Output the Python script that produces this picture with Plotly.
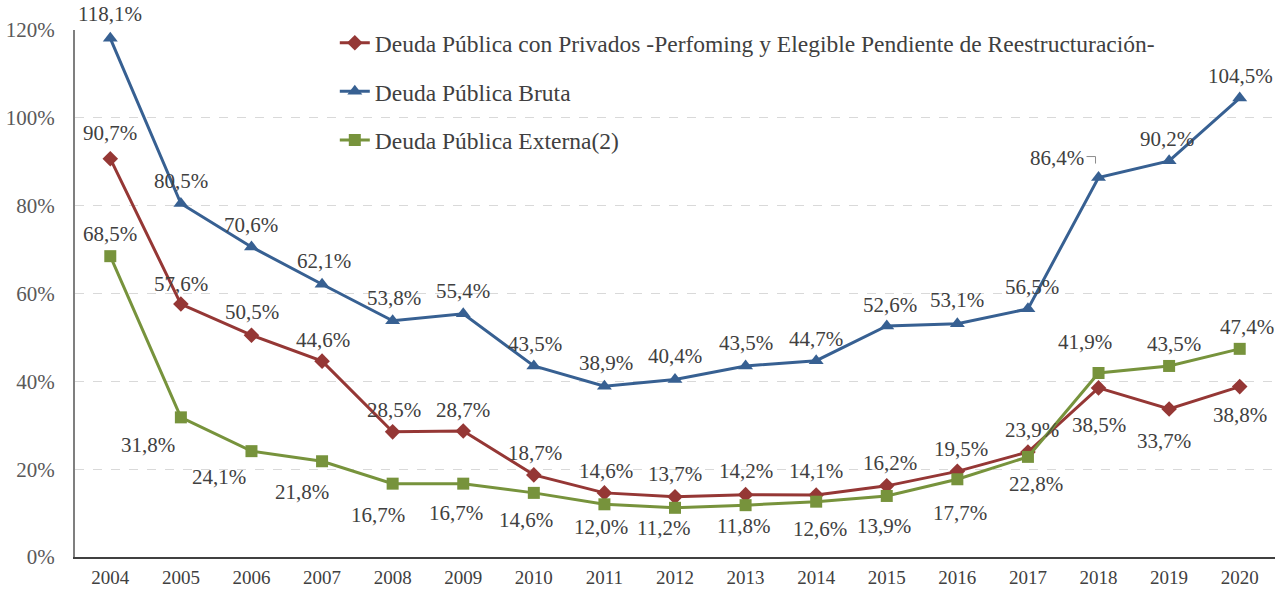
import plotly.graph_objects as go

years = list(range(2004, 2021))
privados = [90.7, 57.6, 50.5, 44.6, 28.5, 28.7, 18.7, 14.6, 13.7, 14.2, 14.1, 16.2, 19.5, 23.9, 38.5, 33.7, 38.8]
bruta = [118.1, 80.5, 70.6, 62.1, 53.8, 55.4, 43.5, 38.9, 40.4, 43.5, 44.7, 52.6, 53.1, 56.5, 86.4, 90.2, 104.5]
externa = [68.5, 31.8, 24.1, 21.8, 16.7, 16.7, 14.6, 12.0, 11.2, 11.8, 12.6, 13.9, 17.7, 22.8, 41.9, 43.5, 47.4]

names = [
    "Deuda Pública con Privados -Perfoming y Elegible Pendiente de Reestructuración-",
    "Deuda Pública Bruta",
    "Deuda Pública Externa(2)",
]
colors = ["#953735", "#376092", "#77933C"]
symbols = ["diamond", "triangle-up", "square"]
msizes = [12, 13, 12]

SERIF = "Liberation Serif"

# label offsets in pixels (dx, dy), dy positive = up
off_priv = [(0, 26), (0, 20), (1, 23), (1, 21), (1, 22), (0, 21), (1, 22), (2, 22), (0, 23), (0, 24),
            (0, 24), (3, 23), (4, 22), (4, 22), (0, -37), (-5, -32), (0, -28)]
off_bruta = [(0, 24), (0, 22), (0, 22), (2, 23), (1, 23), (0, 23), (1, 22), (2, 23), (0, 24), (0, 23),
             (0, 22), (3, 21), (0, 24), (4, 22), (-42, 20), (-2, 22), (1, 22)]
off_ext = [(0, 22), (-33, -28), (-32, -26), (-20, -31), (-15, -31), (-7, -29), (-8, -27), (-3, -23), (-12, -20), (-2, -21),
           (4, -27), (-3, -30), (3, -34), (8, -27), (-14, 31), (5, 22), (7, 22)]

label_font = dict(family=SERIF, size=21, color="#404040")

fig = go.Figure()
for name, vals, col, sym, ms in zip(names, [privados, bruta, externa], colors, symbols, msizes):
    fig.add_trace(go.Scatter(
        x=years, y=vals, name=name, mode="lines+markers",
        line=dict(color=col, width=3),
        marker=dict(symbol=sym, size=ms, color=col),
        legendgroup=name,
    ))

annotations = []
for vals, offs in [(privados, off_priv), (bruta, off_bruta), (externa, off_ext)]:
    for yr, v, (dx, dy) in zip(years, vals, offs):
        txt = f"{v:.1f}%".replace(".", ",")
        annotations.append(dict(x=yr, y=v, text=txt, showarrow=False,
                                xshift=dx, yshift=dy, font=label_font))

# elbow leader line for the 2018 gross-debt label
i18 = years.index(2018)
fig.add_shape(type="path", xref="x", yref="y", xsizemode="pixel", ysizemode="pixel",
              xanchor=years[i18], yanchor=bruta[i18],
              path="M-12,21 L-3,21 L-3,14",
              line=dict(color="#8c8c8c", width=1))

fig.update_layout(
    width=1284, height=590,
    margin=dict(l=75, r=9, t=30, b=33),
    paper_bgcolor="white", plot_bgcolor="white",
    font=dict(family=SERIF, color="#595959"),
    showlegend=True,
    legend=dict(x=0.2165, y=1.017, xanchor="left", yanchor="top",
                bgcolor="rgba(0,0,0,0)", font=dict(family=SERIF, size=23.5, color="#404040"),
                traceorder="grouped", tracegroupgap=15, itemwidth=30),
    annotations=annotations,
    xaxis=dict(range=[2003.5, 2020.5], tickvals=years, ticktext=[str(y) for y in years],
               automargin=False,
               showgrid=False, zeroline=False, showline=True, linecolor="#404040", linewidth=2,
               ticks="", ticklabelstandoff=2, tickfont=dict(family=SERIF, size=19, color="#404040")),
    yaxis=dict(range=[0, 120], tickvals=[0, 20, 40, 60, 80, 100, 120],
               ticktext=["0%", "20%", "40%", "60%", "80%", "100%", "120%"],
               automargin=False,
               showgrid=True, gridcolor="#d9d9d9", griddash="dash", gridwidth=1,
               zeroline=False, showline=True, linecolor="#7f7f7f", linewidth=2,
               ticks="", ticklabelstandoff=14, tickfont=dict(family=SERIF, size=21, color="#595959")),
)

fig.write_html("out.html")
